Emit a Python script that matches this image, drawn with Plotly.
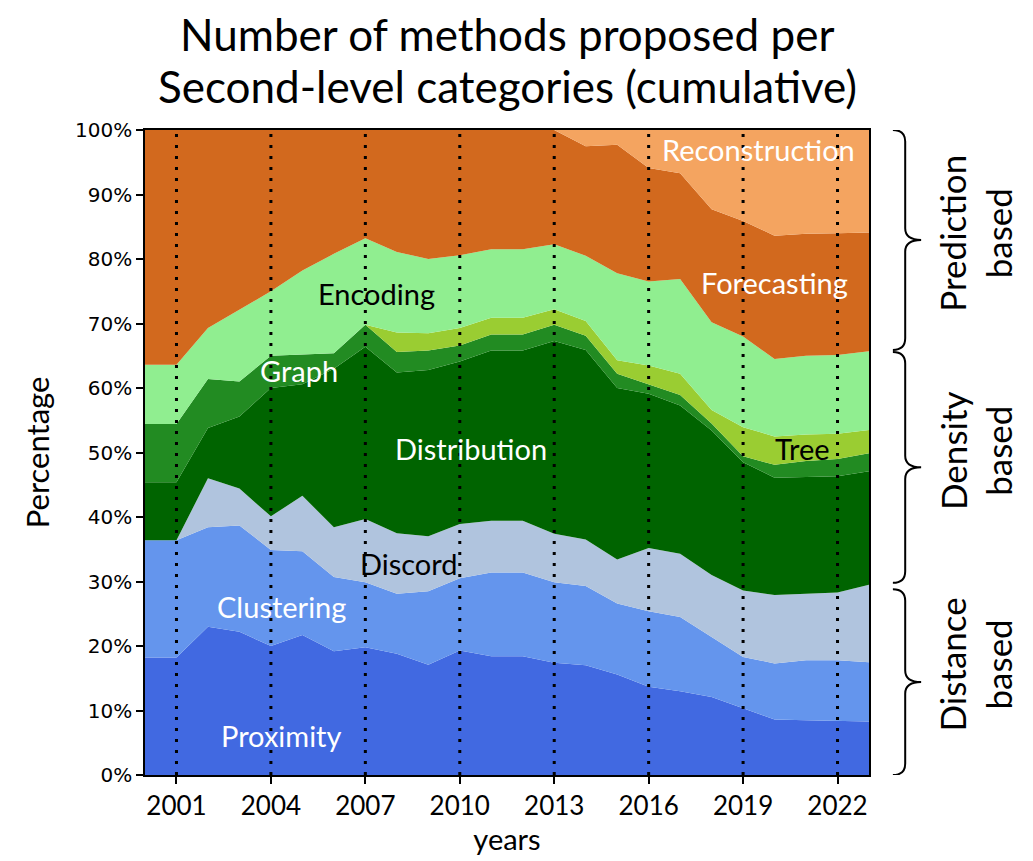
import plotly.graph_objects as go

years = list(range(2000, 2024))

# share of each second-level category per year (percent of cumulative total)
proximity = [18.2, 18.2, 23.0, 22.2, 20.0, 21.7, 19.2, 19.8, 18.8, 17.1, 19.3, 18.4,
             18.4, 17.4, 17.0, 15.6, 13.7, 13.0, 12.1, 10.4, 8.6, 8.5, 8.4, 8.3]
clustering = [18.2, 18.2, 15.4, 16.5, 14.9, 13.0, 11.5, 10.1, 9.3, 11.4, 11.2, 13.0,
              13.0, 12.5, 12.3, 11.0, 11.7, 11.5, 9.3, 7.9, 8.7, 9.3, 9.4, 9.2]
discord = [0, 0, 7.6, 5.7, 5.2, 8.6, 7.7, 9.8, 9.4, 8.5, 8.4, 8.0,
           8.0, 7.5, 7.2, 6.8, 9.8, 9.8, 9.6, 10.3, 10.6, 10.3, 10.5, 12.0]
distribution = [9.0, 9.0, 7.8, 11.2, 19.9, 17.3, 24.6, 26.7, 24.9, 25.8, 25.2, 26.4,
                26.4, 29.9, 29.4, 26.6, 23.9, 23.0, 22.4, 19.9, 18.2, 18.1, 18.0, 17.6]
graph = [9.0, 9.0, 7.6, 5.4, 5.0, 4.6, 2.4, 3.4, 3.2, 3.0, 2.5, 2.5,
         2.5, 2.5, 2.2, 2.2, 1.5, 1.6, 1.1, 0.9, 2.0, 2.5, 2.7, 2.8]
tree = [0, 0, 0, 0, 0, 0, 0, 0, 3.0, 2.7, 2.7, 2.6,
        2.6, 2.4, 2.3, 2.1, 2.9, 3.3, 2.1, 4.5, 4.4, 4.1, 3.9, 3.6]
encoding = [9.2, 9.2, 7.9, 11.1, 10.0, 13.0, 15.4, 13.4, 12.5, 11.5, 11.3, 10.6,
            10.6, 10.1, 10.1, 13.5, 13.0, 14.7, 13.6, 14.1, 12.0, 12.2, 12.2, 12.2]
forecasting = [36.4, 36.4, 30.7, 27.9, 25.0, 21.8, 19.2, 16.8, 18.9, 20.0, 19.4, 18.5,
               18.5, 17.7, 17.0, 19.9, 17.6, 16.4, 17.5, 17.9, 19.1, 18.9, 18.9, 18.4]
reconstruction = [0, 0, 0, 0, 0, 0, 0, 0, 0, 0, 0, 0,
                  0, 0, 2.5, 2.3, 5.9, 6.7, 12.3, 14.1, 16.4, 16.1, 16.0, 15.9]

series = [
    ('Proximity', proximity, '#4169E1'),
    ('Clustering', clustering, '#6495ED'),
    ('Discord', discord, '#B0C4DE'),
    ('Distribution', distribution, '#006400'),
    ('Graph', graph, '#228B22'),
    ('Tree', tree, '#9ACD32'),
    ('Encoding', encoding, '#90EE90'),
    ('Forecasting', forecasting, '#D2691E'),
    ('Reconstruction', reconstruction, '#F4A460'),
]

# label text, position (year, percent), colour
labels = [
    ('Proximity', 2004.35, 6.2, 'white'),
    ('Clustering', 2004.35, 26.2, 'white'),
    ('Discord', 2008.4, 32.8, 'black'),
    ('Distribution', 2010.35, 50.6, 'white'),
    ('Graph', 2004.9, 62.7, 'white'),
    ('Encoding', 2007.35, 74.6, 'black'),
    ('Tree', 2020.9, 50.6, 'black'),
    ('Forecasting', 2020.0, 76.3, 'white'),
    ('Reconstruction', 2019.5, 96.9, 'white'),
]

# first-level groups: (bottom %, top %, text, text centre %)
groups = [
    (0, 28.8, 'Distance<br>based', 17.2),
    (29.8, 65.6, 'Density<br>based', 50.3),
    (65.9, 100, 'Prediction<br>based', 84.0),
]

title_lines = ['Number of methods proposed per',
               'Second-level categories (cumulative)']

tick_years = list(range(2001, 2023, 3))

calibri = 'Lato, Open Sans, sans-serif'

fig = go.Figure()
for name, vals, col in series:
    fig.add_trace(go.Scatter(x=years, y=vals, name=name, mode='lines',
                             stackgroup='one', groupnorm='percent',
                             line=dict(width=0, color=col), fillcolor=col,
                             hoverinfo='skip'))

for y in tick_years:
    fig.add_shape(type='line', xref='x', yref='paper', x0=y, x1=y, y0=0, y1=1,
                  line=dict(color='black', width=3, dash='3px,8px'))

for txt, x, y, c in labels:
    fig.add_annotation(x=x, y=y, text=txt, showarrow=False,
                       font=dict(family=calibri, size=29, color=c))


def brace(y0, y1):
    xo, xs, xt = 1.033, 1.050, 1.072
    r = 1.8
    ym = (y0 + y1) / 2
    return (f'M {xo},{y1} Q {xs},{y1} {xs},{y1 - r} L {xs},{ym + r} '
            f'Q {xs},{ym} {xt},{ym} Q {xs},{ym} {xs},{ym - r} '
            f'L {xs},{y0 + r} Q {xs},{y0} {xo},{y0}')


for y0, y1, txt, ty in groups:
    fig.add_shape(type='path', xref='paper', yref='y', path=brace(y0, y1),
                  line=dict(color='black', width=2))
    fig.add_annotation(xref='paper', yref='y', x=1.147, y=ty,
                       xanchor='center', yanchor='middle',
                       text=txt, textangle=-90, showarrow=False,
                       font=dict(family=calibri, size=35, color='black'))

for line, ypos in zip(title_lines, [1.149, 1.068]):
    fig.add_annotation(xref='paper', yref='paper', x=0.5, y=ypos,
                       xanchor='center', yanchor='middle', showarrow=False,
                       text=line, font=dict(family=calibri, size=44, color='black'))

fig.update_layout(
    width=1033, height=861,
    margin=dict(l=137, r=172, t=122, b=94),
    paper_bgcolor='white', plot_bgcolor='white',
    showlegend=False,
)
fig.update_xaxes(range=[2000, 2023], tickvals=tick_years, ticks='outside',
                 ticklen=7, tickwidth=1.5, tickcolor='black',
                 showline=True, linecolor='black', linewidth=1.5, mirror=True,
                 showgrid=False, zeroline=False,
                 tickfont=dict(family=calibri, size=26, color='black'),
                 title=dict(text='years', standoff=10,
                            font=dict(family=calibri, size=29, color='black')))
fig.update_yaxes(range=[0, 100], dtick=10, ticksuffix='%', ticks='outside',
                 ticklen=7, tickwidth=1.5, tickcolor='black',
                 showline=True, linecolor='black', linewidth=1.5, mirror=True,
                 showgrid=False, zeroline=False,
                 tickfont=dict(family='DejaVu Sans', size=20, color='black'),
                 title=dict(text='Percentage', standoff=16,
                            font=dict(family=calibri, size=31, color='black')))

fig.write_html('out.html')
